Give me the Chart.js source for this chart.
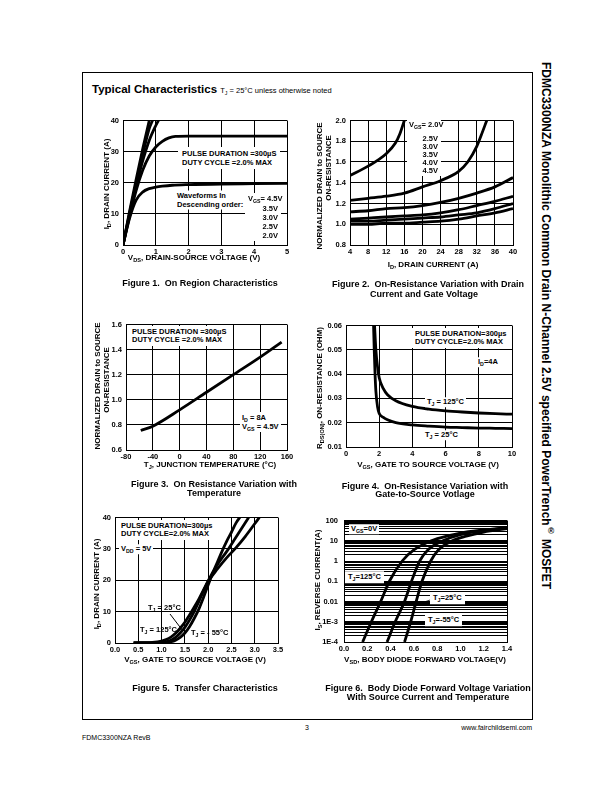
<!DOCTYPE html>
<html>
<head>
<meta charset="utf-8">
<script src="https://cdn.jsdelivr.net/npm/chart.js@4.4.1/dist/chart.umd.min.js"></script>
<style>
  body { margin:0; width:612px; height:792px; position:relative; background:#fff; overflow:hidden;
         font-family:"Liberation Sans", Arial, sans-serif; color:#000; }
  canvas { position:absolute; z-index:1; }
  .frame { position:absolute; left:82px; top:72px; width:449px; height:646px; border:1px solid #000; }
  .t { position:absolute; z-index:2; white-space:nowrap; line-height:1; font-weight:bold; font-size:7.5px; transform:translateY(-50%); }
  .c { transform:translate(-50%,-50%); }
  .rt { transform:translate(-100%,-50%); }
  .r { transform:translate(-50%,-50%) rotate(-90deg); }
  .ax { font-size:8px; }
  .cap { font-size:9px; }
  .bg { background:#fff; padding:1px 2px; }
  .blk { position:absolute; z-index:2; background:#fff; }
  .side { position:absolute; left:539px; top:62px; writing-mode:vertical-rl; font-weight:bold; font-size:12px; white-space:nowrap; }
  .foot { position:absolute; font-size:7px; transform:translateY(-50%); white-space:nowrap; }
  sub { font-size:70%; vertical-align:-0.3em; line-height:0; }
  sup { font-size:70%; line-height:0; }
  svg { position:absolute; left:0; top:0; z-index:2; }
</style>
</head>
<body>
<div class="frame"></div>

<div class="t" style="left:92px;top:90px;font-size:11.5px">Typical Characteristics <span style="font-weight:normal;font-size:7.5px">T<sub>J</sub> = 25°C unless otherwise noted</span></div>
<div class="side">FDMC3300NZA Monolithic Common Drain N-Channel 2.5V specified PowerTrench<sup>®</sup> MOSFET</div>

<!-- Figure 1 -->
<div class="t ax r" style="left:107px;top:184px">I<sub>D</sub>, DRAIN CURRENT (A)</div>
<div class="t ax c" style="left:194px;top:258px">V<sub>DS</sub>, DRAIN-SOURCE VOLTAGE (V)</div>
<div class="t cap c" style="left:200px;top:283px">Figure 1.&nbsp; On Region Characteristics</div>
<div class="t bg" style="left:178px;top:157.5px;line-height:9px;padding:2px 4px">PULSE DURATION =300µS<br>DUTY CYCLE =2.0% MAX</div>
<div class="t bg" style="left:175px;top:200px;line-height:8.5px">Waveforms In<br>Descending order:</div>
<div class="blk" style="left:245px;top:193px;width:36px;height:48px"></div>
<div class="t" style="left:248px;top:199px">V<sub>GS</sub>= 4.5V</div>
<div class="t rt" style="left:278px;top:209px">3.5V</div>
<div class="t rt" style="left:278px;top:218px">3.0V</div>
<div class="t rt" style="left:278px;top:227px">2.5V</div>
<div class="t rt" style="left:278px;top:236px">2.0V</div>

<!-- Figure 2 -->
<div class="t ax r" style="left:320px;top:186px">NORMALIZED DRAIN to SOURCE</div>
<div class="t ax r" style="left:328.5px;top:168px">ON-RESISTANCE</div>
<div class="t ax c" style="left:433px;top:265px">I<sub>D</sub>, DRAIN CURRENT (A)</div>
<div class="t cap c" style="left:428px;top:284px">Figure 2.&nbsp; On-Resistance Variation with Drain</div>
<div class="t cap c" style="left:424px;top:293.5px">Current and Gate Voltage</div>
<div class="blk" style="left:407px;top:120px;width:34px;height:56px"></div>
<div class="t" style="left:409px;top:125px">V<sub>GS</sub>= 2.0V</div>
<div class="t rt" style="left:438px;top:138.5px">2.5V</div>
<div class="t rt" style="left:438px;top:146.5px">3.0V</div>
<div class="t rt" style="left:438px;top:154.5px">3.5V</div>
<div class="t rt" style="left:438px;top:162.5px">4.0V</div>
<div class="t rt" style="left:438px;top:171px">4.5V</div>

<!-- Figure 3 -->
<div class="t ax r" style="left:98px;top:386px">NORMALIZED DRAIN to SOURCE</div>
<div class="t ax r" style="left:107px;top:380px">ON-RESISTANCE</div>
<div class="t ax c" style="left:210px;top:465px">T<sub>J</sub>, JUNCTION TEMPERATURE (°C)</div>
<div class="t cap c" style="left:214px;top:484px">Figure 3.&nbsp; On Resistance Variation with</div>
<div class="t cap c" style="left:214px;top:492.5px">Temperature</div>
<div class="t bg" style="left:129px;top:336px;line-height:8px;padding:2px 3px">PULSE DURATION =300µS<br>DUTY CYCLE =2.0% MAX</div>
<div class="t bg" style="left:240px;top:421.5px;line-height:9px">I<sub>D</sub> = 8A<br>V<sub>GS</sub> = 4.5V</div>

<!-- Figure 4 -->
<div class="t ax r" style="left:320px;top:388px">R<sub>DS(ON)</sub>, ON-RESISTANCE (OHM)</div>
<div class="t ax c" style="left:428px;top:465px">V<sub>GS</sub>, GATE TO SOURCE VOLTAGE (V)</div>
<div class="t cap c" style="left:425px;top:486px">Figure 4.&nbsp; On-Resistance Variation with</div>
<div class="t cap c" style="left:425px;top:494px">Gate-to-Source Votlage</div>
<div class="t bg" style="left:412px;top:338px;line-height:8px;padding:2px 3px">PULSE DURATION=300µs<br>DUTY CYCLE=2.0% MAX</div>
<div class="t bg" style="left:476px;top:362px">I<sub>D</sub>=4A</div>
<div class="t bg" style="left:425px;top:402px">T<sub>J</sub> = 125°C</div>
<div class="t bg" style="left:423px;top:435px">T<sub>J</sub> = 25°C</div>

<!-- Figure 5 -->
<div class="t ax r" style="left:97px;top:584px">I<sub>D</sub>, DRAIN CURRENT (A)</div>
<div class="t ax c" style="left:195px;top:660px">V<sub>GS</sub>, GATE TO SOURCE VOLTAGE (V)</div>
<div class="t cap c" style="left:205px;top:688px">Figure 5.&nbsp; Transfer Characteristics</div>
<div class="t bg" style="left:119px;top:530px;line-height:8px;padding:2px 2px">PULSE DURATION=300µs<br>DUTY CYCLE=2.0% MAX</div>
<div class="t bg" style="left:119px;top:549px">V<sub>DD</sub> = 5V</div>
<div class="t" style="left:148px;top:608px">T<sub>J</sub> = 25°C</div>
<div class="t" style="left:140px;top:630px">T<sub>J</sub> = 125°C</div>
<div class="t" style="left:191px;top:633px">T<sub>J</sub> = - 55°C</div>

<!-- Figure 6 -->
<div class="t ax r" style="left:318px;top:580px">I<sub>S</sub>, REVERSE CURRENT(A)</div>
<div class="t ax c" style="left:425px;top:660px">V<sub>SD</sub>, BODY DIODE FORWARD VOLTAGE(V)</div>
<div class="t cap c" style="left:428px;top:688px">Figure 6.&nbsp; Body Diode Forward Voltage Variation</div>
<div class="t cap c" style="left:428px;top:696.5px">With Source Current and Temperature</div>
<div class="t bg" style="left:349px;top:529px">V<sub>GS</sub>=0V</div>
<div class="t bg" style="left:345px;top:577px;padding:2px 3px">T<sub>J</sub>=125°C</div>
<div class="t bg" style="left:430px;top:598px;padding:2px 3px">T<sub>J</sub>=25°C</div>
<div class="t bg" style="left:425px;top:620px;padding:2px 3px">T<sub>J</sub>=-55°C</div>

<svg width="612" height="792">
  <line x1="170" y1="614" x2="183" y2="631" stroke="#000" stroke-width="1"/>
  <line x1="430" y1="600" x2="413" y2="606" stroke="#000" stroke-width="0.8"/>
</svg>

<div class="foot" style="left:305px;top:727px">3</div>
<div class="foot" style="right:80px;top:727px">www.fairchildsemi.com</div>
<div class="foot" style="left:82px;top:737px">FDMC3300NZA RevB</div>

<script>
// ---- Figure 1: On region characteristics (I_D vs V_DS) ----
const fig1XTicks = ['0', '1', '2', '3', '4', '5'];
const fig1YTicks = ['0', '10', '20', '30', '40'];
const fig1Vds45 = [0, 0.2, 0.4, 0.6, 0.8];
const fig1Id45  = [0, 10.8, 21, 30.8, 40];
const fig1Vds35 = [0, 0.2, 0.4, 0.6, 0.8, 0.9];
const fig1Id35  = [0, 10.2, 19.8, 29, 37.4, 40];
const fig1Vds30 = [0, 0.2, 0.4, 0.6, 0.8, 1.0, 1.08];
const fig1Id30  = [0, 9.7, 18.8, 27, 33.6, 38.4, 40];
const fig1Vds25 = [0, 0.2, 0.4, 0.6, 0.8, 1.0, 1.2, 1.4, 1.6, 2, 3, 4, 5];
const fig1Id25  = [0, 9.2, 17.5, 24, 28.6, 31.5, 33.3, 34.4, 34.9, 35, 35, 35, 35];
const fig1Vds20 = [0, 0.2, 0.4, 0.6, 0.8, 1.0, 1.2, 1.5, 2, 3, 4, 5];
const fig1Id20  = [0, 8.6, 14.4, 17, 18.1, 18.6, 18.9, 19.2, 19.4, 19.6, 19.7, 19.8];

// ---- Figure 2: normalized R vs I_D ----
const fig2XTicks = ['4', '8', '12', '16', '20', '24', '28', '32', '36', '40'];
const fig2YTicks = ['0.8', '1.0', '1.2', '1.4', '1.6', '1.8', '2.0'];
const fig2Id   = [4, 8, 12, 16, 20, 24, 28, 32, 36, 40];
const fig2Id20 = [4, 8, 12, 14, 15, 16];
const fig2R20  = [1.47, 1.56, 1.68, 1.78, 1.87, 2.0];
const fig2Id25 = [4, 8, 12, 16, 20, 24, 28, 30, 32, 33, 34.2];
const fig2R25  = [1.23, 1.25, 1.27, 1.3, 1.36, 1.42, 1.51, 1.6, 1.75, 1.86, 2.0];
const fig2R30  = [1.12, 1.13, 1.15, 1.16, 1.18, 1.21, 1.25, 1.3, 1.36, 1.45];
const fig2R35  = [1.05, 1.06, 1.07, 1.08, 1.09, 1.11, 1.14, 1.18, 1.22, 1.27];
const fig2R40  = [1.03, 1.03, 1.04, 1.05, 1.06, 1.07, 1.09, 1.11, 1.15, 1.2];
const fig2R45  = [1.0, 1.0, 1.01, 1.01, 1.02, 1.03, 1.05, 1.08, 1.11, 1.15];

// ---- Figure 3: normalized R vs T_J ----
const fig3XTicks = ['-80', '-40', '0', '40', '80', '120', '160'];
const fig3YTicks = ['0.6', '0.8', '1.0', '1.2', '1.4', '1.6'];
const fig3Temp = [-58, -40, 0, 40, 80, 120, 152];
const fig3R    = [0.755, 0.79, 0.92, 1.06, 1.2, 1.34, 1.46];

// ---- Figure 4: R_DS(on) vs V_GS ----
const fig4XTicks = ['0', '2', '4', '6', '8', '10'];
const fig4YTicks = ['0.01', '0.02', '0.03', '0.04', '0.05', '0.06'];
const fig4Vgs125 = [1.72, 1.8, 1.9, 2.0, 2.25, 2.5, 3, 4, 5, 6, 7, 8, 9, 10];
const fig4R125   = [0.06, 0.05, 0.043, 0.0385, 0.034, 0.0315, 0.029, 0.0267, 0.0256, 0.0249, 0.0244, 0.024, 0.0237, 0.0235];
const fig4Vgs25  = [1.66, 1.7, 1.75, 1.8, 1.9, 2.0, 2.25, 2.5, 3, 4, 5, 6, 7, 8, 9, 10];
const fig4R25    = [0.06, 0.05, 0.04, 0.033, 0.0265, 0.0238, 0.0222, 0.0212, 0.02, 0.0191, 0.0186, 0.0182, 0.018, 0.0178, 0.0177, 0.0176];

// ---- Figure 5: transfer characteristics ----
const fig5XTicks = ['0.0', '0.5', '1.0', '1.5', '2.0', '2.5', '3.0', '3.5'];
const fig5YTicks = ['0', '10', '20', '30', '40'];
const fig5VgsN55 = [0.4, 0.8, 1.0, 1.2, 1.3, 1.4, 1.5, 1.6, 1.7, 1.8, 1.9, 2.0, 2.1, 2.2, 2.3, 2.4, 2.5, 2.6, 2.68];
const fig5IdN55  = [0, 0.02, 0.08, 0.4, 0.9, 1.8, 3.2, 5.2, 7.8, 10.8, 14.5, 18.5, 22.3, 25.8, 29.3, 32.5, 35.3, 38.3, 40];
const fig5Vgs25  = [0.4, 0.8, 1.0, 1.2, 1.3, 1.4, 1.5, 1.6, 1.7, 1.8, 1.9, 2.0, 2.2, 2.4, 2.6, 2.87];
const fig5Id25   = [0, 0.05, 0.2, 0.9, 1.8, 3.2, 5, 7.3, 10, 13.2, 16.6, 19.8, 25, 29.2, 33.8, 40];
const fig5Vgs125 = [0.4, 0.8, 1.0, 1.1, 1.2, 1.3, 1.4, 1.5, 1.6, 1.7, 1.8, 2.0, 2.2, 2.4, 2.6, 2.8, 3.0, 3.1];
const fig5Id125  = [0.05, 0.2, 0.6, 1.1, 1.9, 3.1, 4.7, 6.6, 8.9, 11.4, 14, 19.6, 23.6, 27.2, 30.4, 34, 38, 40];

// ---- Figure 6: body diode forward voltage ----
const fig6XTicks = ['0.0', '0.2', '0.4', '0.6', '0.8', '1.0', '1.2', '1.4'];
const fig6Decades = [1e-4, 1e-3, 0.01, 0.1, 1, 10, 100];
const fig6YTicks  = ['1E-4', '1E-3', '0.01', '0.1', '1', '10', '100'];
const fig6Vsd125 = [0.16, 0.235, 0.315, 0.39, 0.5, 0.6, 0.75, 0.9, 1.0, 1.2, 1.4];
const fig6Is125  = [1e-4, 1e-3, 0.01, 0.1, 1, 3.5, 10, 18, 24, 34, 45];
const fig6Vsd25  = [0.37, 0.44, 0.52, 0.58, 0.65, 0.72, 0.85, 1.0, 1.2, 1.4];
const fig6Is25   = [1e-4, 1e-3, 0.01, 0.1, 1, 3.5, 10, 20, 31, 42];
const fig6VsdN55 = [0.52, 0.573, 0.62, 0.67, 0.745, 0.81, 0.93, 1.05, 1.2, 1.4];
const fig6IsN55  = [1e-4, 1e-3, 0.01, 0.1, 1, 3.5, 10, 17, 27, 40];

// ---------- helpers ----------
const tickFont = { family: '"Liberation Sans", Arial, sans-serif', size: 7.5, weight: 'bold' };
const M = { l: 36, r: 10, t: 8, b: 14 };

function pts(xs, ys) { return xs.map((x, i) => ({ x: x, y: ys[i] })); }

function curve(xs, ys) {
    return { data: pts(xs, ys), borderColor: '#000', borderWidth: 2.8, pointRadius: 0,
             fill: false, cubicInterpolationMode: 'monotone' };
}

function axis(min, max, step, labels, pos) {
    return {
        type: 'linear', position: pos, min: min, max: max,
        ticks: { stepSize: step, autoSkip: false, maxRotation: 0, color: '#000', font: tickFont,
                 padding: pos === 'left' ? 4 : 2, callback: (v, i) => labels[i] },
        grid: { color: '#000', lineWidth: 1, drawTicks: false },
        border: { display: true, color: '#000', width: 1 }
    };
}

// area = plot rectangle on the page [left, top, right, bottom]
function mount(area, datasets, x, y) {
    const w = area[2] - area[0] + M.l + M.r;
    const h = area[3] - area[1] + M.t + M.b;
    const cv = document.createElement('canvas');
    cv.width = w; cv.height = h;
    cv.style.left = (area[0] - M.l) + 'px';
    cv.style.top = (area[1] - M.t) + 'px';
    cv.style.width = w + 'px';
    cv.style.height = h + 'px';
    document.body.appendChild(cv);
    x.afterFit = s => { s.height = M.b; };
    y.afterFit = s => { s.width = M.l; };
    return new Chart(cv, {
        type: 'line',
        data: { datasets: datasets },
        options: {
            responsive: false, animation: false, devicePixelRatio: 1,
            layout: { padding: { left: 0, right: M.r, top: M.t, bottom: 0 } },
            plugins: { legend: { display: false }, tooltip: { enabled: false } },
            scales: { x: x, y: y }
        }
    });
}

// Figure 1
mount([123, 120, 287, 245], [
    curve(fig1Vds45, fig1Id45), curve(fig1Vds35, fig1Id35), curve(fig1Vds30, fig1Id30),
    curve(fig1Vds25, fig1Id25), curve(fig1Vds20, fig1Id20)
], axis(0, 5, 1, fig1XTicks, 'bottom'), axis(0, 40, 10, fig1YTicks, 'left'));

// Figure 2
mount([350, 120, 513, 245], [
    curve(fig2Id20, fig2R20), curve(fig2Id25, fig2R25), curve(fig2Id, fig2R30),
    curve(fig2Id, fig2R35), curve(fig2Id, fig2R40), curve(fig2Id, fig2R45)
], axis(4, 40, 4, fig2XTicks, 'bottom'), axis(0.8, 2.0, 0.2, fig2YTicks, 'left'));

// Figure 3
mount([126, 324, 287, 450], [
    curve(fig3Temp, fig3R)
], axis(-80, 160, 40, fig3XTicks, 'bottom'), axis(0.6, 1.6, 0.2, fig3YTicks, 'left'));

// Figure 4
mount([346, 325, 512, 447], [
    curve(fig4Vgs125, fig4R125), curve(fig4Vgs25, fig4R25)
], axis(0, 10, 2, fig4XTicks, 'bottom'), axis(0.01, 0.06, 0.01, fig4YTicks, 'left'));

// Figure 5
mount([115, 517, 278, 643], [
    curve(fig5VgsN55, fig5IdN55), curve(fig5Vgs25, fig5Id25), curve(fig5Vgs125, fig5Id125)
], axis(0, 3.5, 0.5, fig5XTicks, 'bottom'), axis(0, 40, 10, fig5YTicks, 'left'));

// Figure 6 - log y axis with full decade grid, no vertical grid inside
const fig6Grid = [];
fig6Decades.slice(0, -1).forEach(d => { for (let k = 1; k <= 9; k++) fig6Grid.push(d * k); });
fig6Grid.push(fig6Decades[fig6Decades.length - 1]);

const x6 = axis(0, 1.4, 0.2, fig6XTicks, 'bottom');
x6.grid.color = ctx => (ctx.index === 0 || ctx.index === fig6XTicks.length - 1) ? '#000' : 'rgba(0,0,0,0)';
const y6 = {
    type: 'logarithmic', position: 'left', min: 1e-4, max: 100,
    afterBuildTicks: s => { s.ticks = fig6Grid.map(v => ({ value: v })); },
    ticks: {
        autoSkip: false, color: '#000', font: tickFont, padding: 6,
        callback: v => {
            const i = fig6Decades.findIndex(d => Math.abs(d - v) / d < 1e-6);
            return i < 0 ? '' : fig6YTicks[i];
        }
    },
    grid: { color: '#000', lineWidth: 1, drawTicks: false },
    border: { display: true, color: '#000', width: 1 }
};
mount([344, 518, 507, 642], [
    curve(fig6Vsd125, fig6Is125), curve(fig6Vsd25, fig6Is25), curve(fig6VsdN55, fig6IsN55)
], x6, y6);
</script>
</body>
</html>
